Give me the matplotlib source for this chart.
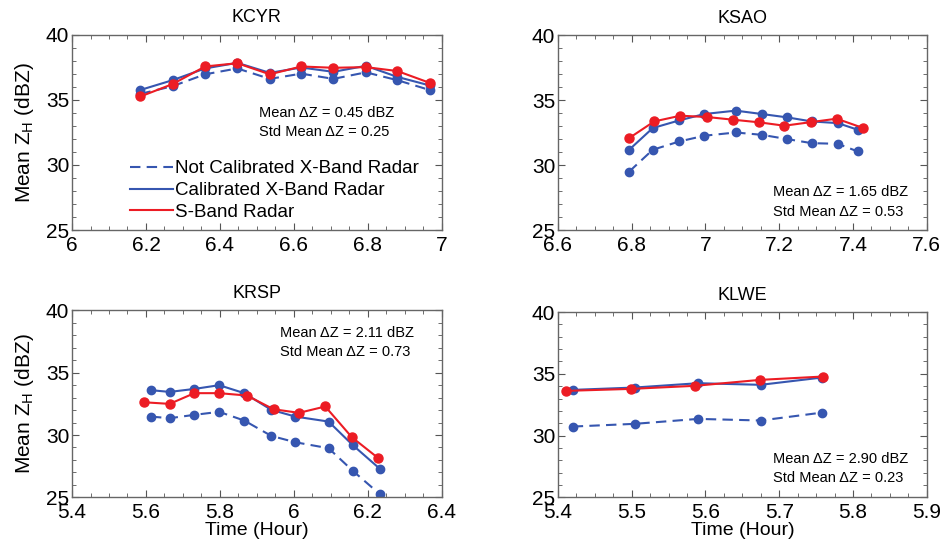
import matplotlib

matplotlib.use("Agg")
import matplotlib.pyplot as plt
from matplotlib.ticker import MultipleLocator, FuncFormatter

plt.rcParams["font.family"] = ["Liberation Sans", "DejaVu Sans"]

# KCYR
kcyr_t = [6.185, 6.272, 6.36, 6.447, 6.535, 6.62, 6.707, 6.795, 6.88, 6.967]
kcyr_nc = [35.45, 36.04, 36.95, 37.4, 36.6, 37.0, 36.6, 37.1, 36.5, 35.75]
kcyr_cal = [35.75, 36.5, 37.4, 37.83, 37.06, 37.47, 37.14, 37.6, 36.75, 36.1]
kcyr_s = [35.25, 36.2, 37.55, 37.8, 36.95, 37.55, 37.45, 37.5, 37.2, 36.3]

# KSAO
ksao_t = [6.793, 6.857, 6.929, 6.997, 7.082, 7.153, 7.222, 7.288, 7.359, 7.413]
ksao_nc = [29.5, 31.18, 31.82, 32.26, 32.51, 32.33, 32.0, 31.69, 31.64, 31.05]
ksao_cal = [31.18, 32.85, 33.44, 33.93, 34.19, 33.93, 33.67, 33.36, 33.23, 32.72]
ksao_s_t = [6.793, 6.861, 6.932, 7.004, 7.076, 7.146, 7.214, 7.287, 7.356, 7.428]
ksao_s = [32.08, 33.36, 33.8, 33.7, 33.49, 33.29, 33.03, 33.31, 33.57, 32.85]

# KRSP
krsp_t = [5.6135, 5.664, 5.731, 5.798, 5.866, 5.939, 6.004, 6.094, 6.159, 6.233]
krsp_nc = [31.48, 31.35, 31.62, 31.86, 31.16, 29.93, 29.42, 28.94, 27.14, 25.24]
krsp_cal = [33.6, 33.46, 33.7, 34.0, 33.36, 32.02, 31.48, 31.08, 29.2, 27.28]
krsp_s_t = [5.594, 5.664, 5.731, 5.798, 5.873, 5.945, 6.014, 6.085, 6.157, 6.229]
krsp_s = [32.63, 32.5, 33.36, 33.36, 33.17, 32.07, 31.78, 32.29, 29.82, 28.13]

# KLWE
klwe_t = [5.42, 5.504, 5.59, 5.675, 5.758]
klwe_nc = [30.73, 30.95, 31.35, 31.22, 31.86]
klwe_cal = [33.7, 33.89, 34.24, 34.11, 34.7]
klwe_s_t = [5.411, 5.499, 5.586, 5.674, 5.759]
klwe_s = [33.62, 33.78, 34.03, 34.51, 34.78]

BLUE = "#3656b0"
RED = "#ec1c24"

fig = plt.figure(figsize=(9.43, 5.48), dpi=100)

panels = [
    dict(name="KCYR", pos=[0.0764, 0.580, 0.392, 0.357], xlim=(6, 7), major=0.2,
         t=kcyr_t, nc=kcyr_nc, cal=kcyr_cal, st=kcyr_t, s=kcyr_s,
         stats=("0.45", "0.25"), txy=(0.505, 0.60, 0.50), ylab=True, xlab=False, legend=True),
    dict(name="KSAO", pos=[0.5917, 0.580, 0.391, 0.356], xlim=(6.6, 7.6), major=0.2,
         t=ksao_t, nc=ksao_nc, cal=ksao_cal, st=ksao_s_t, s=ksao_s,
         stats=("1.65", "0.53"), txy=(0.583, 0.195, 0.095), ylab=False, xlab=False, legend=False),
    dict(name="KRSP", pos=[0.0764, 0.0925, 0.392, 0.341], xlim=(5.4, 6.4), major=0.2,
         t=krsp_t, nc=krsp_nc, cal=krsp_cal, st=krsp_s_t, s=krsp_s,
         stats=("2.11", "0.73"), txy=(0.562, 0.878, 0.775), ylab=True, xlab=True, legend=False),
    dict(name="KLWE", pos=[0.5917, 0.0925, 0.391, 0.338], xlim=(5.4, 5.9), major=0.1,
         t=klwe_t, nc=klwe_nc, cal=klwe_cal, st=klwe_s_t, s=klwe_s,
         stats=("2.90", "0.23"), txy=(0.583, 0.205, 0.103), ylab=False, xlab=True, legend=False),
]

for p in panels:
    ax = fig.add_axes(p["pos"])
    ax.plot(p["t"], p["nc"], "--", color=BLUE, lw=1.5, marker="o", ms=6,
            dashes=(5, 3), label="Not Calibrated X-Band Radar")
    ax.plot(p["t"], p["cal"], "-", color=BLUE, lw=1.5, marker="o", ms=6,
            label="Calibrated X-Band Radar")
    ax.plot(p["st"], p["s"], "-", color=RED, lw=1.5, marker="o", ms=6.5,
            label="S-Band Radar")

    ax.set_xlim(p["xlim"])
    ax.set_ylim(25, 40)
    ax.xaxis.set_major_locator(MultipleLocator(p["major"]))
    ax.xaxis.set_minor_locator(MultipleLocator(p["major"] / 4))
    ax.yaxis.set_major_locator(MultipleLocator(5))
    ax.yaxis.set_minor_locator(MultipleLocator(1))
    ax.xaxis.set_major_formatter(FuncFormatter(lambda v, pos: "%g" % round(v, 3)))
    ax.tick_params(which="both", direction="in", top=True, right=True,
                   colors="#555555", labelcolor="black", labelsize=15)
    ax.tick_params(which="major", length=5)
    ax.tick_params(axis="x", which="major", pad=4)
    ax.tick_params(axis="y", which="major", pad=2)
    ax.tick_params(which="minor", length=3)
    for sp in ax.spines.values():
        sp.set_color("#666666")
        sp.set_linewidth(1.0)

    ax.set_title(p["name"], fontsize=13, pad=9)
    if p["ylab"]:
        ax.set_ylabel("Mean Z$_\\mathregular{H}$ (dBZ)", fontsize=15, labelpad=7)
    if p["xlab"]:
        ax.set_xlabel("Time (Hour)", fontsize=14, labelpad=0)

    tx, ty1, ty2 = p["txy"]
    ax.text(tx, ty1, "Mean \u0394Z = %s dBZ" % p["stats"][0], transform=ax.transAxes,
            fontsize=10.5, va="center", ha="left")
    ax.text(tx, ty2, "Std Mean \u0394Z = %s" % p["stats"][1], transform=ax.transAxes,
            fontsize=10.5, va="center", ha="left")

    if p["legend"]:
        leg = ax.legend(loc="lower left", bbox_to_anchor=(0.12, -0.02), frameon=False,
                        fontsize=13.5, handlelength=2.3, handletextpad=0.1,
                        labelspacing=0.25, borderpad=0.2)
        for h in leg.legend_handles:
            h.set_marker("")

fig.savefig("out.png", dpi=100)
